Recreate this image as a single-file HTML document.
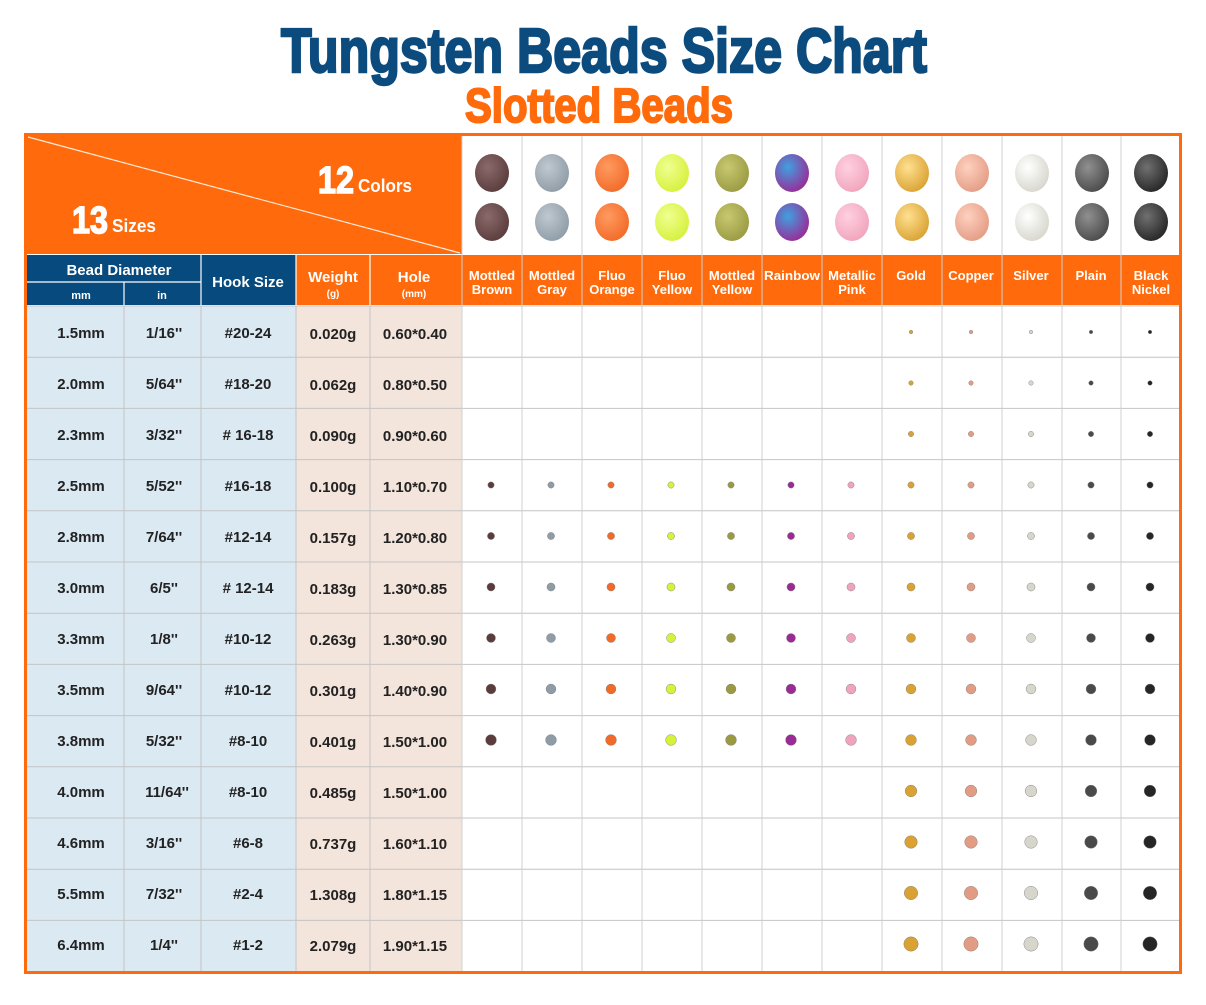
<!DOCTYPE html>
<html><head><meta charset="utf-8"><style>
body{margin:0;background:#fff;}
svg text{font-family:"Liberation Sans",sans-serif;}
</style></head><body>
<svg id="s" width="1206" height="1000" xmlns="http://www.w3.org/2000/svg">
<rect width="1206" height="1000" fill="#fff"/>
<text x="604" y="72" text-anchor="middle" font-size="62" font-weight="bold" fill="#0b4b7e" stroke="#0b4b7e" stroke-width="2.5" textLength="646" lengthAdjust="spacingAndGlyphs">Tungsten Beads Size Chart</text>
<text x="599" y="122" text-anchor="middle" font-size="48" font-weight="bold" fill="#ff6a0a" stroke="#ff6a0a" stroke-width="2" textLength="268" lengthAdjust="spacingAndGlyphs">Slotted Beads</text>
<rect x="26" y="306" width="270" height="666" fill="#dbe9f3"/>
<rect x="296" y="306" width="166" height="666" fill="#f3e4dc"/>
<rect x="26" y="135" width="436" height="119" fill="#ff6b0c"/>
<line x1="28" y1="137" x2="460" y2="253" stroke="#fff" stroke-width="1.2" opacity="0.85"/>
<text x="318" y="193" font-size="38" font-weight="bold" fill="#fff" stroke="#fff" stroke-width="1.5" textLength="36" lengthAdjust="spacingAndGlyphs">12</text>
<text x="358" y="192" font-size="18" font-weight="bold" fill="#fff" textLength="54" lengthAdjust="spacingAndGlyphs">Colors</text>
<text x="72" y="233" font-size="38" font-weight="bold" fill="#fff" stroke="#fff" stroke-width="1.5" textLength="36" lengthAdjust="spacingAndGlyphs">13</text>
<text x="112" y="232" font-size="18" font-weight="bold" fill="#fff" textLength="44" lengthAdjust="spacingAndGlyphs">Sizes</text>
<rect x="26" y="255" width="270" height="50" fill="#064a7e"/>
<rect x="296" y="255" width="885" height="50" fill="#ff6b0c"/>
<g stroke="#fff" stroke-width="1.2">
<line x1="26" y1="282" x2="201" y2="282"/>
<line x1="124" y1="282" x2="124" y2="305"/>
<line x1="201" y1="255" x2="201" y2="305"/>
<line x1="370" y1="255" x2="370" y2="305"/>
<line x1="296" y1="255" x2="296" y2="305"/>
</g>
<g fill="#fff" font-weight="bold" text-anchor="middle">
<text x="119" y="275" font-size="15">Bead Diameter</text>
<text x="81" y="299" font-size="11">mm</text>
<text x="162" y="299" font-size="11">in</text>
<text x="248" y="287" font-size="15">Hook Size</text>
<text x="333" y="282" font-size="15">Weight</text>
<text x="333" y="297" font-size="10">(g)</text>
<text x="414" y="282" font-size="15">Hole</text>
<text x="414" y="297" font-size="10">(mm)</text>
</g>
<g fill="#fff" font-weight="bold" text-anchor="middle" font-size="13">
<text x="492" y="280">Mottled</text><text x="492" y="294">Brown</text>
<text x="552" y="280">Mottled</text><text x="552" y="294">Gray</text>
<text x="612" y="280">Fluo</text><text x="612" y="294">Orange</text>
<text x="672" y="280">Fluo</text><text x="672" y="294">Yellow</text>
<text x="732" y="280">Mottled</text><text x="732" y="294">Yellow</text>
<text x="792" y="280" textLength="56" lengthAdjust="spacingAndGlyphs">Rainbow</text>
<text x="852" y="280">Metallic</text><text x="852" y="294">Pink</text>
<text x="911" y="280">Gold</text>
<text x="971" y="280">Copper</text>
<text x="1031" y="280">Silver</text>
<text x="1091" y="280">Plain</text>
<text x="1151" y="280">Black</text><text x="1151" y="294">Nickel</text>
</g>
<g id="grid" stroke="#c4c4c4" stroke-width="1"></g>
<g id="beads"></g>
<g font-size="15" font-weight="bold" fill="#222" text-anchor="middle">
<text x="81" y="338">1.5mm</text><text x="164" y="338">1/16''</text><text x="248" y="338">#20-24</text><text x="333" y="339">0.020g</text><text x="415" y="339">0.60*0.40</text>
<text x="81" y="389">2.0mm</text><text x="164" y="389">5/64''</text><text x="248" y="389">#18-20</text><text x="333" y="390">0.062g</text><text x="415" y="390">0.80*0.50</text>
<text x="81" y="440">2.3mm</text><text x="164" y="440">3/32''</text><text x="248" y="440"># 16-18</text><text x="333" y="441">0.090g</text><text x="415" y="441">0.90*0.60</text>
<text x="81" y="491">2.5mm</text><text x="164" y="491">5/52''</text><text x="248" y="491">#16-18</text><text x="333" y="492">0.100g</text><text x="415" y="492">1.10*0.70</text>
<text x="81" y="542">2.8mm</text><text x="164" y="542">7/64''</text><text x="248" y="542">#12-14</text><text x="333" y="543">0.157g</text><text x="415" y="543">1.20*0.80</text>
<text x="81" y="593">3.0mm</text><text x="164" y="593">6/5''</text><text x="248" y="593"># 12-14</text><text x="333" y="594">0.183g</text><text x="415" y="594">1.30*0.85</text>
<text x="81" y="644">3.3mm</text><text x="164" y="644">1/8''</text><text x="248" y="644">#10-12</text><text x="333" y="645">0.263g</text><text x="415" y="645">1.30*0.90</text>
<text x="81" y="695">3.5mm</text><text x="164" y="695">9/64''</text><text x="248" y="695">#10-12</text><text x="333" y="696">0.301g</text><text x="415" y="696">1.40*0.90</text>
<text x="81" y="746">3.8mm</text><text x="164" y="746">5/32''</text><text x="248" y="746">#8-10</text><text x="333" y="747">0.401g</text><text x="415" y="747">1.50*1.00</text>
<text x="81" y="797">4.0mm</text><text x="167" y="797">11/64''</text><text x="248" y="797">#8-10</text><text x="333" y="798">0.485g</text><text x="415" y="798">1.50*1.00</text>
<text x="81" y="848">4.6mm</text><text x="164" y="848">3/16''</text><text x="248" y="848">#6-8</text><text x="333" y="849">0.737g</text><text x="415" y="849">1.60*1.10</text>
<text x="81" y="899">5.5mm</text><text x="164" y="899">7/32''</text><text x="248" y="899">#2-4</text><text x="333" y="900">1.308g</text><text x="415" y="900">1.80*1.15</text>
<text x="81" y="950">6.4mm</text><text x="164" y="950">1/4''</text><text x="248" y="950">#1-2</text><text x="333" y="951">2.079g</text><text x="415" y="951">1.90*1.15</text>
</g>
<rect x="25.5" y="134.5" width="1155" height="838" fill="none" stroke="#ff6b0c" stroke-width="3"/>
</svg>
<script>
var NS="http://www.w3.org/2000/svg",g=document.getElementById('grid'),b=document.getElementById('beads');
function el(p,t,a){var e=document.createElementNS(NS,t);for(var k in a)e.setAttribute(k,a[k]);p.appendChild(e);return e;}
var cols=[462,522,582,642,702,762,822,882,942,1002,1062,1121,1181];
for(var i=0;i<=13;i++)el(g,'line',{x1:26,x2:1181,y1:306+51.2*i,y2:306+51.2*i});
[124,201,296,370].forEach(function(x){el(g,'line',{x1:x,x2:x,y1:306,y2:972});});
cols.forEach(function(x){el(g,'line',{x1:x,x2:x,y1:135,y2:972,stroke:'#d0d0d0'});});
var cc=['#5b3c3c','#8e9ca6','#f26a28','#d6f03c','#9a9a42','#9a2a96','#f0a4bc','#d9a233','#e39c84','#d6d6cc','#4a4a4a','#262626'];
var hi=['#8a6a6a','#c0c8d0','#ff9a60','#f0ff90','#c8c870','#40a0e0','#ffd0e0','#ffe090','#ffd0c0','#ffffff','#909090','#707070'];
for(var c=0;c<12;c++){var x=cols[c]+30;
 [173,222].forEach(function(y){
  var gr=el(b,'radialGradient',{id:'g'+c+y,cx:'0.38',cy:'0.35',r:'0.7'});
  el(gr,'stop',{offset:'0','stop-color':hi[c]});el(gr,'stop',{offset:'1','stop-color':cc[c]});
  el(b,'ellipse',{cx:x,cy:y,rx:17,ry:19,fill:'url(#g'+c+y+')'});
 });}
for(var r=0;r<13;r++){var y=332+51*r,rad=1.8+r*0.45;
 for(var c=0;c<12;c++){if(c<7&&(r<3||r>8))continue;
  el(b,'circle',{cx:cols[c]+29,cy:y,r:rad,fill:cc[c],stroke:'#777','stroke-width':0.4});}}
</script>
</body></html>
